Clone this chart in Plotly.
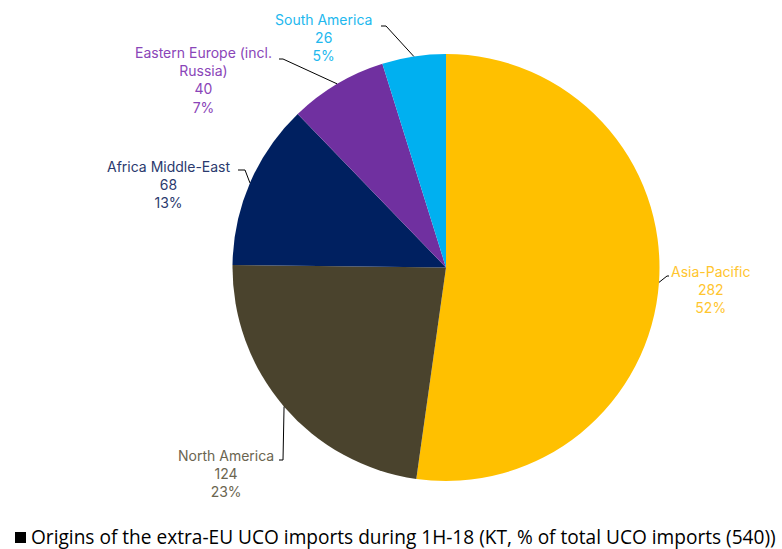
import math
import plotly.graph_objects as go

# ---- data ----
regions = ["Asia-Pacific", "North America", "Africa Middle-East",
           "Eastern Europe (incl.<br>Russia)", "South America"]
values = [282, 124, 68, 40, 26]
slice_colors = ["#FFC000", "#4A432D", "#002060", "#7030A0", "#00B0F0"]
label_colors = ["#FFC52E", "#6B6550", "#2B3A6E", "#8A45B8", "#22B8EE"]
legend_text = "Origins of the extra-EU UCO imports during 1H-18 (KT, % of total UCO imports (540))"

W, H = 782, 549
cx, cy, R = 446, 267.5, 213.5

# label layout (pixel positions of text block centre, elbow and line end)
label_pos = [(711, 289), (226, 473), (168, 184), (203, 80), (323, 37)]
elbow_pos = [(667, 276), (283, 460), (245, 170), (283, 59), (386, 26)]
end_pos = [(669, 276), (279, 460), (238, 170), (279, 59), (381, 26)]

def px(x, y):
    return x / W, 1 - y / H

total = sum(values)
fig = go.Figure()
fig.add_trace(go.Pie(
    labels=regions, values=values, sort=False, direction="clockwise",
    rotation=0, marker=dict(colors=slice_colors, line=dict(width=0)),
    textinfo="none", hoverinfo="label+value+percent", showlegend=False,
    domain=dict(x=[(cx - R) / W, (cx + R) / W], y=[1 - (cy + R) / H, 1 - (cy - R) / H]),
))

annotations = []
shapes = []
cum = 0
for i, (name, v) in enumerate(zip(regions, values)):
    mid = (cum + v / 2) / total
    cum += v
    ang = 2 * math.pi * mid
    ex, ey = cx + R * math.sin(ang), cy - R * math.cos(ang)
    pct = round(100 * v / total)
    lx, ly = label_pos[i]
    ax_, ay_ = px(lx, ly)
    annotations.append(dict(
        x=ax_, y=ay_, xref="paper", yref="paper", showarrow=False,
        text=f"{name}<br>{v}<br>{pct}%", align="center",
        xanchor="center", yanchor="middle",
        font=dict(family="Inter", size=14, color=label_colors[i]),
    ))
    p0 = px(ex, ey)
    p1 = px(*elbow_pos[i])
    p2 = px(*end_pos[i])
    shapes.append(dict(
        type="path", xref="paper", yref="paper",
        path=f"M {p0[0]} {p0[1]} L {p1[0]} {p1[1]} L {p2[0]} {p2[1]}",
        line=dict(color="#000000", width=1),
    ))

# legend
sx0, sy0 = px(15, 532)
sx1, sy1 = px(26, 543)
shapes.append(dict(type="rect", xref="paper", yref="paper", x0=sx0, x1=sx1,
                   y0=sy1, y1=sy0, fillcolor="#000000", line=dict(width=0)))
lx_, ly_ = px(29, 537)
annotations.append(dict(
    x=lx_, y=ly_, xref="paper", yref="paper", showarrow=False,
    text=legend_text, xanchor="left", yanchor="middle",
    font=dict(family="Open Sans", size=19.1, color="#000000"),
))

fig.update_layout(
    width=W, height=H, margin=dict(l=0, r=0, t=0, b=0),
    paper_bgcolor="white", plot_bgcolor="white",
    annotations=annotations, shapes=shapes,
)
fig.write_html("out.html", config={"displayModeBar": False},
               post_script="document.body.style.margin='0';document.body.style.overflow='hidden';")
